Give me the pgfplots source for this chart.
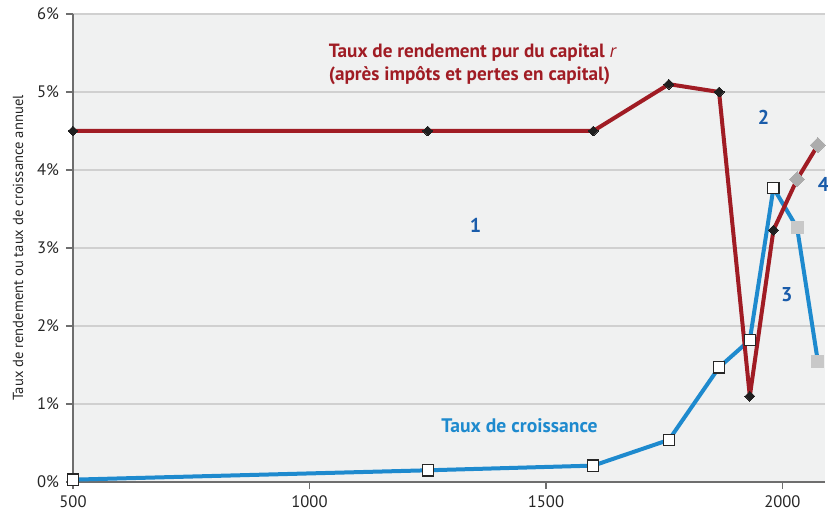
\documentclass[border=0pt]{standalone}
\usepackage{fontspec}
\setmainfont{PT Sans}
\usepackage{pgfplots}
\pgfplotsset{compat=1.18}
\usetikzlibrary{calc}
\definecolor{bgc}{RGB}{240,241,241}
\definecolor{rred}{RGB}{160,28,36}
\definecolor{gblue}{RGB}{30,138,206}
\definecolor{nblue}{RGB}{26,92,170}
\definecolor{gridc}{RGB}{208,208,208}
\definecolor{axc}{RGB}{110,110,110}
\definecolor{gsq}{RGB}{200,200,200}
\definecolor{gdm}{RGB}{172,172,172}
\begin{document}
\begin{tikzpicture}
\begin{axis}[
  name=ax,
  width=376pt, height=234pt, scale only axis,
  xmin=500, xmax=2090, ymin=0, ymax=6,
  axis background/.style={fill=bgc},
  axis x line*=bottom, axis y line*=left,
  axis line style={axc, line width=0.8pt},
  xtick={500,1000,1500,2000},
  ytick={0,1,2,3,4,5,6},
  tick align=outside, major tick length=3.5pt,
  tick style={axc, line width=0.6pt},
  ymajorgrids, grid style={gridc, line width=0.7pt},
  /pgf/number format/assume math mode=true,
  /pgf/number format/1000 sep={},
  xticklabel style={font=\fontsize{8.3}{9}\selectfont, text=black!85},
  yticklabel style={font=\fontsize{8.3}{9}\selectfont, text=black!85},
  yticklabel={\pgfmathprintnumber{\tick}\%},
  ylabel={Taux de rendement ou taux de croissance annuel},
  ylabel style={font=\fontsize{7.3}{8}\selectfont, text=black!85},
  clip=false,
]
\addplot[gblue, line width=2pt, line join=round] coordinates {
 (500,0.03) (1250,0.15) (1600,0.21) (1760,0.54) (1866,1.47) (1931,1.82) (1981,3.77) (2031,3.26) (2075,1.54)};
\addplot[rred, line width=2pt, line join=round] coordinates {
 (500,4.5) (1250,4.5) (1600,4.5) (1760,5.10) (1866,5.00) (1931,1.10) (1981,3.23) (2031,3.88) (2075,4.32)};
\addplot[only marks, color=black!85, mark=square*, mark size=2.8pt, mark options={fill=white, line width=0.6pt}] coordinates {
 (500,0.03) (1250,0.15) (1600,0.21) (1760,0.54) (1866,1.47) (1931,1.82) (1981,3.77)};
\addplot[only marks, color=gsq, mark=square*, mark size=3pt, mark options={fill=gsq, draw=gsq, line width=0pt}] coordinates {
 (2031,3.26) (2075,1.54)};
\addplot[only marks, color=black!88, mark=square*, mark size=1.75pt, mark options={rotate=45, fill=black!88, line width=0pt}] coordinates {
 (500,4.5) (1250,4.5) (1600,4.5) (1760,5.10) (1866,5.00) (1931,1.10) (1981,3.23)};
\addplot[only marks, color=gdm, mark=square*, mark size=2.65pt, mark options={rotate=45, fill=gdm, draw=gdm, line width=0pt}] coordinates {
 (2031,3.88) (2075,4.32)};
\node[anchor=north west, align=left, text=rred, font=\fontsize{9.6}{11.5}\selectfont\bfseries, inner sep=0pt] at (axis cs:1040,5.62)
 {Taux de rendement pur du capital \textit{\mdseries r}\\(après impôts et pertes en capital)};
\node[text=gblue, font=\fontsize{9.8}{11}\selectfont\bfseries] at (axis cs:1444,0.72) {Taux de croissance};
\node[text=nblue, font=\fontsize{10}{11}\selectfont\bfseries] at (axis cs:1351,3.29) {1};
\node[text=nblue, font=\fontsize{10}{11}\selectfont\bfseries] at (axis cs:1960,4.67) {2};
\node[text=nblue, font=\fontsize{10}{11}\selectfont\bfseries] at (axis cs:2009,2.40) {3};
\node[text=nblue, font=\fontsize{10}{11}\selectfont\bfseries] at (axis cs:2087,3.81) {4};
\end{axis}
\pgfresetboundingbox
\path[use as bounding box] ($(ax.south west)+(-36.5pt,-15.5pt)$) rectangle ($(ax.north east)+(1.5pt,7pt)$);
\end{tikzpicture}
\end{document}
